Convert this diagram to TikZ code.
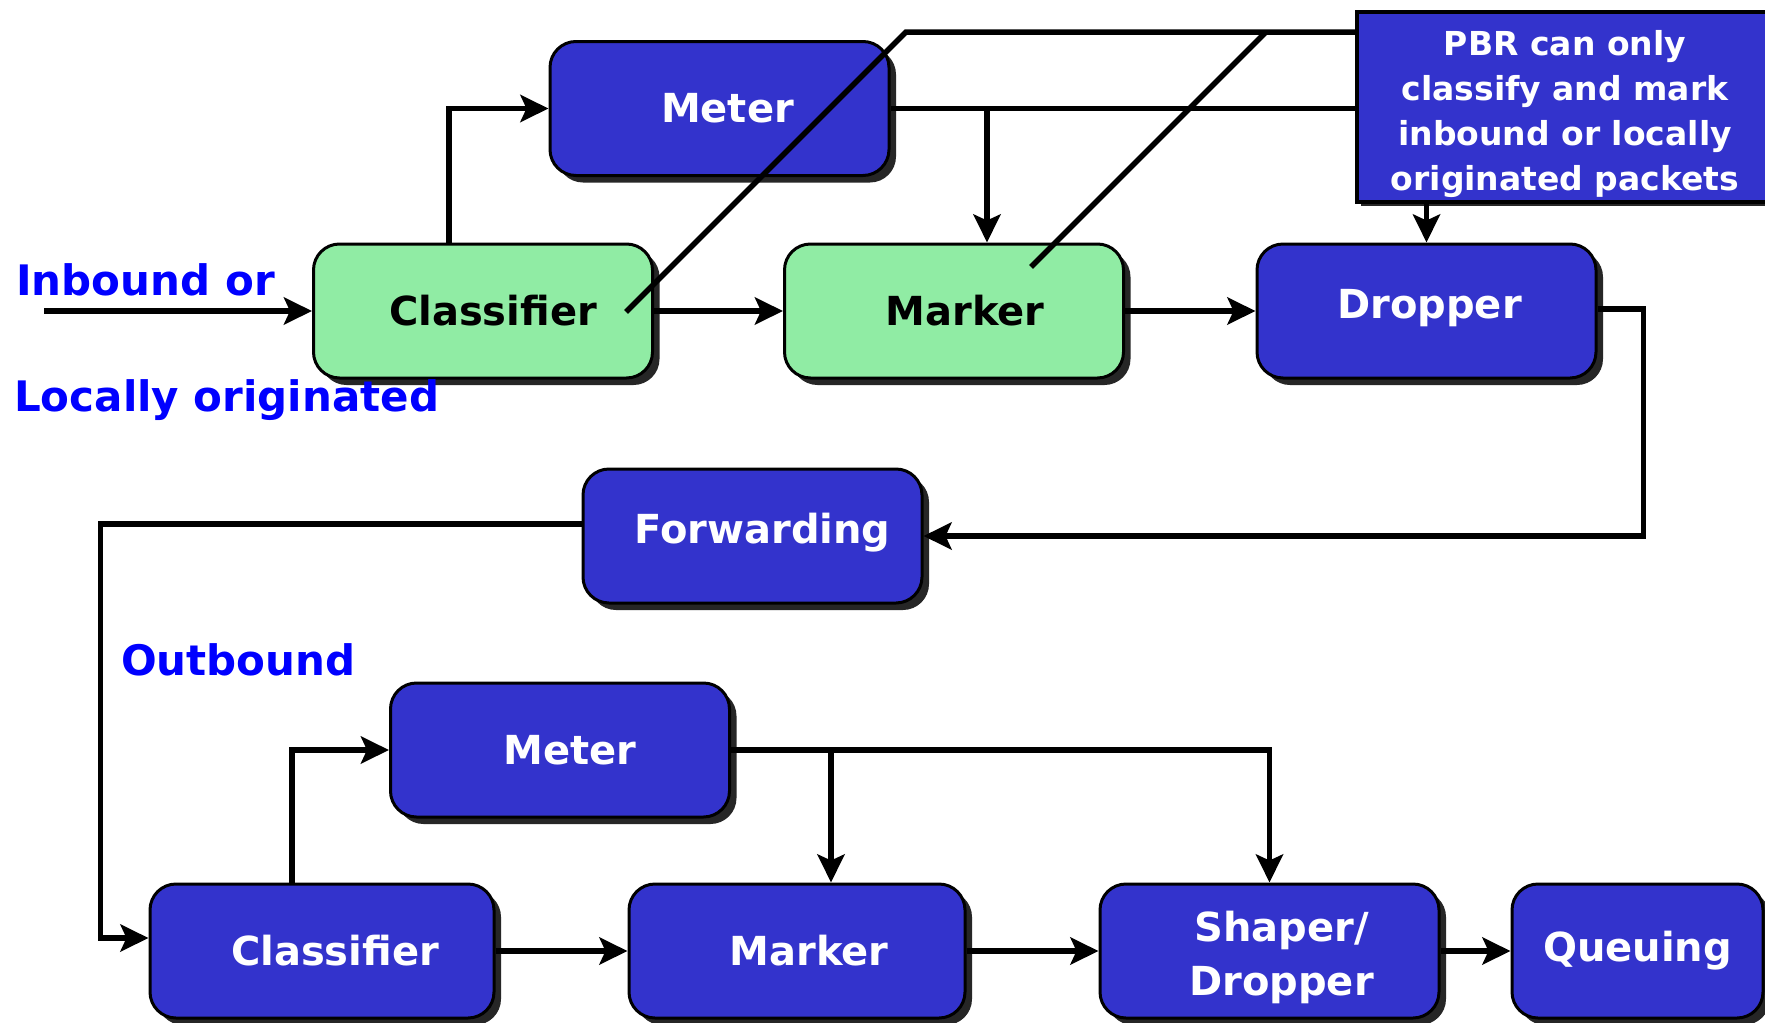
\documentclass[tikz,border=0pt]{standalone}
\usepackage{fontspec}
\setmainfont{DejaVu Sans}
\usetikzlibrary{arrows.meta,shadows}
\definecolor{boxblue}{RGB}{51,51,204}
\definecolor{boxgreen}{RGB}{144,236,164}
\definecolor{lblblue}{RGB}{0,0,255}
\newcommand{\rsh}[2]{\hspace*{#1}#2}
\begin{document}
\begin{tikzpicture}[x=1pt,y=-1pt,
  procbox/.style={draw=black, line width=3pt, rounded corners=26pt,
    minimum width=339pt, minimum height=134pt, inner sep=0pt,
    font=\fontsize{40}{54}\selectfont\bfseries, text=white, fill=boxblue,
    align=center,
    drop shadow={shadow xshift=7pt, shadow yshift=-7pt, fill=black!85, opacity=1}},
  greenbox/.style={procbox, fill=boxgreen, text=black},
  pbrbox/.style={draw=black, line width=4pt, fill=boxblue, text=white,
    minimum width=416pt, minimum height=190pt, inner sep=0pt, align=center,
    font=\fontsize{33}{45}\selectfont\bfseries,
    drop shadow={shadow xshift=4pt, shadow yshift=-4pt, fill=black!85, opacity=1}},
  lbl/.style={font=\fontsize{42}{50}\selectfont\bfseries, text=lblblue, inner sep=0pt, anchor=base west},
  conn/.style={line width=5.5pt, -{Stealth[length=28pt, width=27pt, inset=6pt]}},
  plain/.style={line width=5.5pt}
]
\useasboundingbox (0,0) rectangle (1765,1023);
\fill[white] (0,0) rectangle (1765,1023);

% boxes
\node[procbox] (met1) at (719.5,108.5) {\rsh{16pt}{Meter}};
\node[greenbox] (cls1) at (483,311) {\rsh{20pt}{Classifier}};
\node[greenbox] (mk1) at (954,311) {\rsh{22pt}{Marker}};
\node[procbox] (dr) at (1426.5,311) {\raisebox{14pt}{\rsh{6pt}{Dropper}}};
\node[pbrbox] (pbr) at (1565,107) {\raisebox{-7pt}[\height][\depth]{\begin{tabular}{@{}c@{}}PBR can only\\classify and mark\\inbound or locally\\originated packets\end{tabular}}};
\node[procbox] (fw) at (752.5,536) {\raisebox{16pt}{\rsh{20pt}{Forwarding}}};
\node[procbox] (met2) at (560,750) {\rsh{20pt}{Meter}};
\node[procbox, minimum width=344pt] (cls2) at (322,951) {\rsh{26pt}{Classifier}};
\node[procbox, minimum width=336pt] (mk2) at (797,951) {\rsh{24pt}{Marker}};
\node[procbox] (sh) at (1269.5,951) {\raisebox{-7pt}[\height][\depth]{\begin{tabular}{@{}c@{}}\rsh{24pt}{Shaper/}\\\rsh{24pt}{Dropper}\end{tabular}}};
\node[procbox, minimum width=251pt] (q) at (1637.5,951) {\raisebox{8pt}{Queuing}};

% coordinates
\coordinate (in) at (44,311);
\coordinate (j1) at (987,108.5);
\coordinate (d1) at (626,312);
\coordinate (d1t) at (906,32);
\coordinate (d2) at (1031,267);
\coordinate (d2t) at (1266,32);
\path ([xshift=34pt]mk2.north) coordinate (m2a);

% inbound connectors
\draw[conn] (in) -- (cls1);
\draw[conn] ([xshift=-34pt]cls1.north) |- (met1);
\draw[conn] (cls1) -- (mk1);
\draw[plain] (met1.east) -- (met1.east -| pbr.west);
\draw[conn] (j1) -- (j1 |- mk1.north);
\draw[conn] (mk1) -- (dr);
\draw[conn] (dr.north |- pbr.south) -- (dr.north);
\draw[plain] (d1) -- (d1t) -- (d1t -| pbr.west);
\draw[plain] (d2) -- (d2t);
\draw[conn] ([yshift=2pt]dr.east) -- ++(46pt,0) |- (fw.east);

% outbound connectors
\draw[conn] ([yshift=12pt]fw.west) -- ++(-481pt,0) |- ([yshift=13pt]cls2.west);
\draw[conn] ([xshift=-30pt]cls2.north) |- (met2);
\draw[conn] (met2.east) -| (sh.north);
\draw[conn] (m2a |- met2.east) -- (m2a);
\draw[conn] (cls2) -- (mk2);
\draw[conn] (mk2) -- (sh);
\draw[conn] (sh) -- (q);

% labels
\node[lbl] (inb) at (16,295) {Inbound or};
\node[lbl] (loc) at (14,411) {Locally originated};
\node[lbl] (outb) at (121,675) {Outbound};
\end{tikzpicture}
\end{document}
